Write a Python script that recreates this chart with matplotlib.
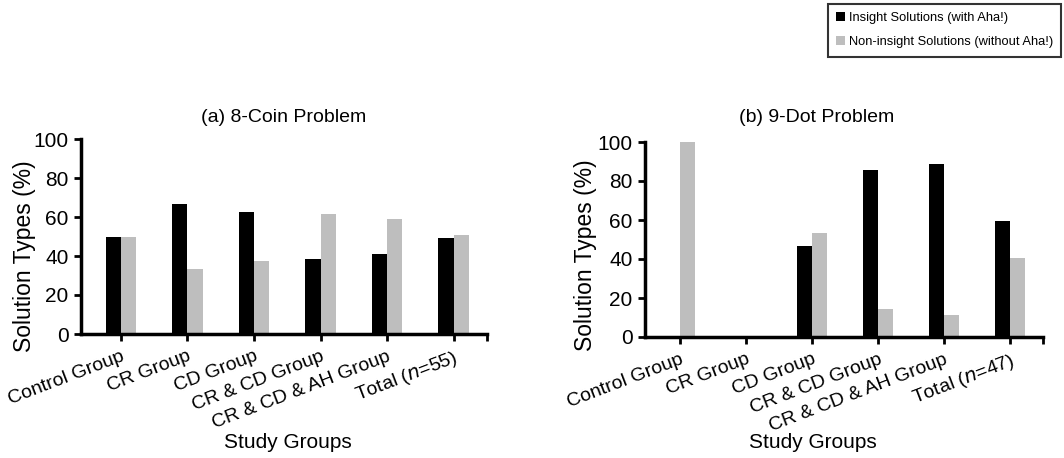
import matplotlib
matplotlib.use("Agg")
import matplotlib.pyplot as plt
import numpy as np
from matplotlib.patches import Patch

plt.rcParams['font.family'] = ['Liberation Sans', 'DejaVu Sans']

groups = ["Control Group", "CR Group", "CD Group", "CR & CD Group",
          "CR & CD & AH Group"]
total_a = "Total ($n$=55)"
total_b = "Total ($n$=47)"

# (a) 8-Coin Problem
coin_insight = [50.0, 66.7, 62.5, 38.5, 41.2, 49.1]
coin_noninsight = [50.0, 33.3, 37.5, 61.5, 58.8, 50.9]

# (b) 9-Dot Problem
dot_insight = [0.0, 0.0, 46.7, 85.7, 88.9, 59.6]
dot_noninsight = [100.0, 0.0, 53.3, 14.3, 11.1, 40.4]

black = "#000000"
gray = "#bebebe"
bw = 0.23

fig = plt.figure(figsize=(10.64, 4.58), dpi=100)
ax1 = fig.add_axes([81 / 1064, 1 - 334 / 458, 406 / 1064, 195 / 458])
ax2 = fig.add_axes([645 / 1064, 1 - 337 / 458, 398 / 1064, 195 / 458])


def draw(ax, ins, non, labels, left, title, title_x, ylab_x, ylab_y):
    x = np.arange(len(labels))
    ax.bar(x - bw / 2, ins, bw, color=black)
    ax.bar(x + bw / 2, non, bw, color=gray)
    ax.set_xlim(left, 5.5)
    ax.set_ylim(0, 100)
    ax.set_yticks([0, 20, 40, 60, 80, 100])
    ax.set_xticks(x)
    ax.set_xticks([5.5], minor=True)
    ax.set_xticklabels(labels, rotation=21, ha='right', rotation_mode='anchor')
    ax.tick_params(axis='x', which='both', length=5, width=2, labelsize=14, pad=5)
    ax.tick_params(axis='y', length=5, width=2, labelsize=15, pad=4)
    for s in ['top', 'right']:
        ax.spines[s].set_visible(False)
    for s in ['left', 'bottom']:
        ax.spines[s].set_linewidth(2.5)
    ax.set_ylabel("Solution Types (%)", fontsize=16.5)
    ax.yaxis.set_label_coords(ylab_x, ylab_y)
    fig.text(title_x, 1 - 117 / 458, title, ha='center', va='center', fontsize=14)


draw(ax1, coin_insight, coin_noninsight, groups + [total_a], -0.6,
     "(a) 8-Coin Problem", 284 / 1064, -0.11, 0.40)
draw(ax2, dot_insight, dot_noninsight, groups + [total_b], -0.53,
     "(b) 9-Dot Problem", 817 / 1064, -0.12, 0.42)

fig.text(288 / 1064, 1 - 442 / 458, "Study Groups", ha='center', va='center', fontsize=15)
fig.text(813 / 1064, 1 - 442 / 458, "Study Groups", ha='center', va='center', fontsize=15)

handles = [Patch(facecolor=black, label="Insight Solutions (with Aha!)"),
           Patch(facecolor=gray, label="Non-insight Solutions (without Aha!)")]
leg = fig.legend(handles=handles, loc='upper left',
                 bbox_to_anchor=(828 / 1064, 1 - 4 / 458),
                 fontsize=9.3, frameon=True, fancybox=False, handlelength=0.7,
                 handleheight=0.7, handletextpad=0.25, borderpad=0.65,
                 labelspacing=0.9, borderaxespad=0)
leg.get_frame().set_edgecolor('black')
leg.get_frame().set_linewidth(1.5)

fig.savefig("out.png", dpi=100)
